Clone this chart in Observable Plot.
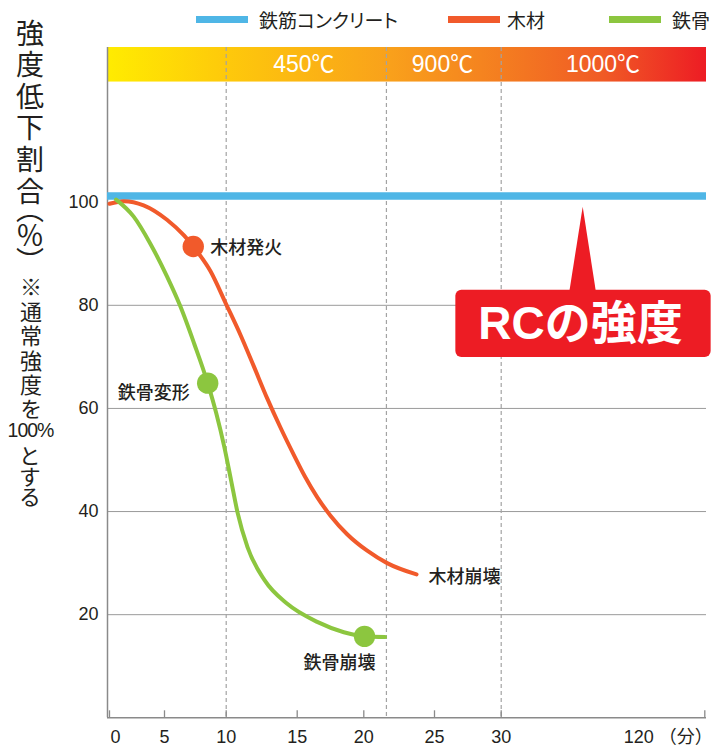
<!DOCTYPE html>
<html><head><meta charset="utf-8">
<script src="https://cdn.jsdelivr.net/npm/d3@7"></script>
<script src="https://cdn.jsdelivr.net/npm/@observablehq/plot@0.6"></script>
<style>
body{margin:0;background:#fff;}
#wrap{position:relative;width:714px;height:750px;font-family:"Noto Sans CJK JP",sans-serif;color:#231f20;}
#legend{position:relative;height:38px;}
.item{position:absolute;top:0;height:38px;display:flex;align-items:center;font-size:19px;font-feature-settings:"palt";white-space:nowrap;}
.sw{width:52px;height:7px;margin-right:11px;}
.vt{position:absolute;writing-mode:vertical-rl;white-space:nowrap;}
</style>
</head><body>
<div id="wrap">
  <div id="legend"></div>
  <div id="chart"></div>
  <div class="vt" id="ylab1" style="left:16px;top:19px;font-size:28px;line-height:28px;letter-spacing:3.6px;"></div>
  <div class="vt" id="ylab2a" style="left:20px;top:276px;font-size:22px;line-height:22px;letter-spacing:2.4px;"></div>
  <div id="ylab2b" style="position:absolute;left:0;width:61px;text-align:center;top:419px;font-family:'Liberation Sans',sans-serif;font-size:19.5px;line-height:22px;letter-spacing:-1px;"></div>
  <div class="vt" id="ylab2c" style="left:19px;top:445px;font-size:22px;line-height:22px;letter-spacing:-1.5px;"></div>
</div>
<script>
// ---- data ----
const seriesNames = ["鉄筋コンクリート", "木材", "鉄骨"];
const seriesColors = ["#4fb6e6", "#f15a2b", "#8cc63f"];
const xTicks = [0, 5, 10, 15, 20, 25, 30, 120];
const xTickLabels = ["0", "5", "10", "15", "20", "25", "30", "120 （分）"];
const yTicks = [20, 40, 60, 80, 100];
const yGrid = [20, 40, 60, 80];

const rcStrength = [101.2];

const woodTime = [0, 1.3, 3.1, 5.2, 6.6, 7.33, 8.73, 10, 11, 11.94, 12.88, 13.82, 14.76, 15.58, 16.5, 17.5, 18.75, 20.24, 21.65, 23.73];
const woodStrength = [99.7, 100.2, 99.4, 96.6, 93.5, 91.4, 86.6, 80.2, 74.3, 68.2, 62.0, 56.3, 51.0, 46.8, 42.8, 39.2, 35.6, 32.4, 30.0, 27.8];

const steelTime = [0.6, 2.2, 3.7, 5.2, 6.3, 7.4, 8.5, 9.2, 9.85, 10.34, 10.8, 11.5, 12.7, 14.3, 16.5, 18.5, 20.05, 21.5];
const steelStrength = [100.5, 97.2, 92.0, 85.6, 79.7, 72.6, 64.9, 59.0, 52.5, 46.1, 39.8, 33.1, 26.7, 22.1, 18.6, 16.6, 15.8, 15.65];

const woodIgnition = [{t: 7.33, v: 91.4, label: "木材発火"}];
const woodCollapse = [{t: 23.73, v: 27.8, label: "木材崩壊"}];
const steelDeform = [{t: 8.5, v: 64.9, label: "鉄骨変形"}];
const steelCollapse = [{t: 20.05, v: 15.8, label: "鉄骨崩壊"}];

const phaseBounds = [10, 21.6, 30];
const tempLabels = ["450℃", "900℃", "1000℃"];
const tempLabelTime = [15.5, 25.6, 75];
const tempBand = [{lo: 123.3, hi: 130}];

const rcLabel = "RCの強度";
const calloutBox = [{x1: 26.6, x2: 122.8, y1: 69.9, y2: 82.9}];
const calloutPointer = [{v: 82.5, a: 60.3, b: 72.1}, {v: 99.0, a: 66.25, b: 66.25}];
const calloutText = [{t: 65.05, v: 76.4}];

const yLabelMain = "強度低下割合";
const yLabelNote1 = "※通常強度を";
const yLabelNote2 = "100%";
const yLabelNote3 = "とする";

// ---- legend ----
const legendLeft = [196, 448, 609];
const legend = document.getElementById("legend");
seriesNames.forEach((n, i) => {
  const it = document.createElement("div");
  it.className = "item";
  it.style.left = legendLeft[i] + "px";
  const sw = document.createElement("div");
  sw.className = "sw";
  sw.style.background = seriesColors[i];
  if (i === 1) sw.style.marginRight = "7px";
  const tx = document.createElement("span");
  tx.textContent = n;
  it.appendChild(sw); it.appendChild(tx);
  legend.appendChild(it);
});

// ---- y label ----
const yl1 = document.getElementById("ylab1");
yl1.textContent = yLabelMain;
const par = document.createElement("span");
par.style.fontFeatureSettings = '"vpal"';
par.style.letterSpacing = "0px";
par.textContent = "（％）";
yl1.appendChild(par);
document.getElementById("ylab2a").textContent = yLabelNote1;
document.getElementById("ylab2b").textContent = yLabelNote2;
document.getElementById("ylab2c").textContent = yLabelNote3;

// ---- chart ----
const wood = woodTime.map((t, i) => ({t, v: woodStrength[i]}));
const steel = steelTime.map((t, i) => ({t, v: steelStrength[i]}));
const xDomain = [-0.18, 0, 5, 10, 15, 20, 25, 30, 120, 120.75];
const xRange = [107, 109, 164, 225.7, 296.7, 363.3, 434, 500.7, 704.3, 706];

const defs = () => {
  const ns = "http://www.w3.org/2000/svg";
  const d = document.createElementNS(ns, "defs");
  const g = document.createElementNS(ns, "linearGradient");
  g.setAttribute("id", "tempGrad");
  g.setAttribute("x1", "0"); g.setAttribute("x2", "1");
  g.setAttribute("y1", "0"); g.setAttribute("y2", "0");
  [[0, "#ffec00"], [0.2, "#fec90b"], [0.47, "#f9a11b"], [0.66, "#f47d20"], [0.83, "#f05a25"], [1, "#ed1c24"]].forEach(([o, c]) => {
    const s = document.createElementNS(ns, "stop");
    s.setAttribute("offset", o); s.setAttribute("stop-color", c);
    g.appendChild(s);
  });
  d.appendChild(g);
  return d;
};

const numFont = "'Liberation Sans', 'Noto Sans CJK JP', sans-serif";
const jpFont = "'Noto Sans CJK JP', sans-serif";

const chart = Plot.plot({
  width: 714, height: 712,
  marginLeft: 107, marginRight: 8, marginTop: 9, marginBottom: 32.7,
  x: {type: "linear", domain: xDomain, range: xRange, axis: null},
  y: {domain: [0, 130], axis: null},
  style: {fontFamily: numFont, fontSize: "18px", color: "#231f20", background: "#fff"},
  marks: [
    defs,
    Plot.rect(tempBand, {y1: "lo", y2: "hi", fill: "url(#tempGrad)"}),
    Plot.ruleY(yGrid, {stroke: "#9a9a9a", strokeWidth: 1}),
    Plot.ruleX(phaseBounds, {stroke: "#a3a3a3", strokeWidth: 1.2, strokeDasharray: "4,3"}),
    Plot.text(tempLabels, {x: (d, i) => tempLabelTime[i], y: 126.65, text: d => d, fill: "#fff", fontSize: 23, fontFamily: numFont}),
    Plot.ruleX([xDomain[0]], {stroke: "#8a8a8a", strokeWidth: 1.5}),
    Plot.ruleY([0], {stroke: "#8a8a8a", strokeWidth: 1.5}),
    Plot.ruleX(xTicks, {x: d => d, y1: 0, y2: 0, insetTop: -7, stroke: "#8a8a8a", strokeWidth: 1.3}),
    Plot.text(xTicks.slice(1, 7), {x: d => d, y: 0, dy: 19.5, text: (d, i) => xTickLabels[i + 1]}),
    Plot.text([xTicks[0]], {x: d => d, y: 0, dy: 19.5, dx: 6, text: () => xTickLabels[0]}),
    Plot.text([xTicks[7]], {x: d => d, y: 0, dy: 19.5, dx: 8, textAnchor: "end", text: () => xTickLabels[7]}),
    Plot.axisY({ticks: yTicks, tickSize: 0, tickPadding: 9, fontSize: 18, fill: "#231f20", label: null}),
    Plot.ruleY(rcStrength, {stroke: seriesColors[0], strokeWidth: 7.3}),
    Plot.line(wood, {x: "t", y: "v", stroke: seriesColors[1], strokeWidth: 4, curve: "monotone-x"}),
    Plot.line(steel, {x: "t", y: "v", stroke: seriesColors[2], strokeWidth: 4, curve: "monotone-x"}),
    Plot.dot(woodIgnition, {x: "t", y: "v", r: 10.7, fill: seriesColors[1]}),
    Plot.dot(steelDeform, {x: "t", y: "v", r: 10.7, fill: seriesColors[2]}),
    Plot.dot(steelCollapse, {x: "t", y: "v", r: 10.7, fill: seriesColors[2]}),
    Plot.text(woodIgnition, {x: "t", y: "v", text: "label", dx: 17, dy: 1.6, textAnchor: "start", fontFamily: jpFont, fontSize: 18, fontWeight: 500, fill: "#231f20"}),
    Plot.text(steelDeform, {x: "t", y: "v", text: "label", dx: -18, dy: 10, textAnchor: "end", fontFamily: jpFont, fontSize: 18, fontWeight: 500, fill: "#231f20"}),
    Plot.text(steelCollapse, {x: "t", y: "v", text: "label", dx: -25, dy: 27, fontFamily: jpFont, fontSize: 18, fontWeight: 500, fill: "#231f20"}),
    Plot.text(woodCollapse, {x: "t", y: "v", text: "label", dx: 12, dy: 2.4, textAnchor: "start", fontFamily: jpFont, fontSize: 18, fontWeight: 500, fill: "#231f20"}),
    Plot.areaX(calloutPointer, {y: "v", x1: "a", x2: "b", fill: "#ed1c24"}),
    Plot.rect(calloutBox, {x1: "x1", x2: "x2", y1: "y1", y2: "y2", fill: "#ed1c24", rx: 6}),
    Plot.text(calloutText, {x: "t", y: "v", text: () => rcLabel, fill: "#fff", fontSize: 46, fontWeight: "bold", fontFamily: numFont})
  ]
});
document.getElementById("chart").appendChild(chart);
</script>
</body></html>
